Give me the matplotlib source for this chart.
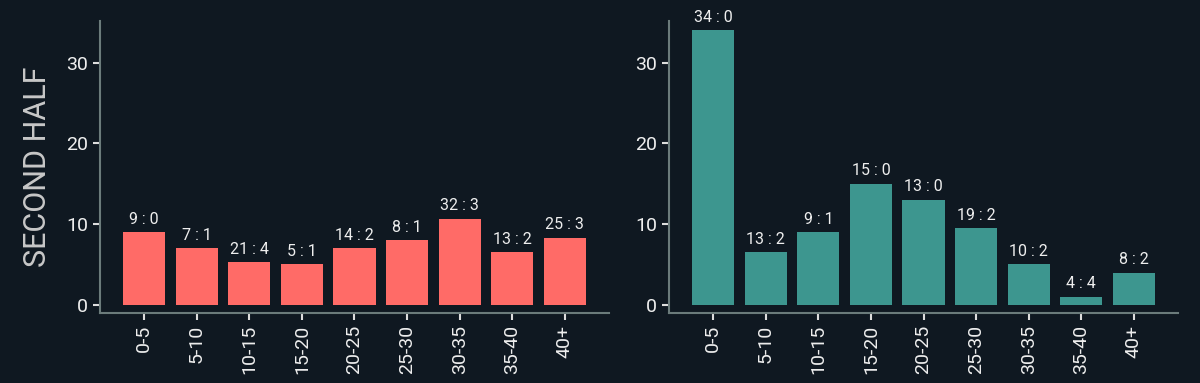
import matplotlib
matplotlib.use("Agg")
import matplotlib.pyplot as plt

plt.rcParams['font.family'] = ['Roboto', 'DejaVu Sans']

bins = ["0-5", "5-10", "10-15", "15-20", "20-25", "25-30", "30-35", "35-40", "40+"]
left_goals = [9, 7, 21, 5, 14, 8, 32, 13, 25]
left_conceded = [0, 1, 4, 1, 2, 1, 3, 2, 3]
right_goals = [34, 13, 9, 15, 13, 19, 10, 4, 8]
right_conceded = [0, 2, 1, 0, 0, 2, 2, 4, 2]

bg = "#0f1821"
spine_col = "#6b7b7b"
text_col = "#eeeeee"

fig = plt.figure(figsize=(12, 3.83), dpi=100, facecolor=bg)
ax1 = fig.add_axes([0.0833, 0.183, 0.4242, 0.763])
ax2 = fig.add_axes([0.5575, 0.183, 0.4242, 0.763])

for ax, goals, conc, col in [(ax1, left_goals, left_conceded, "#ff6b67"),
                             (ax2, right_goals, right_conceded, "#3d968f")]:
    ratio = [g / max(c, 1) for g, c in zip(goals, conc)]
    x = range(len(bins))
    bars = ax.bar(x, ratio, width=0.8, color=col)
    for b, g, c in zip(bars, goals, conc):
        ax.annotate(f"{g} : {c}", (b.get_x() + b.get_width() / 2, b.get_height()),
                    xytext=(0, 4), textcoords="offset points",
                    ha="center", va="bottom", color=text_col, fontsize=11.5)
    ax.set_facecolor(bg)
    ax.set_xticks(list(x))
    ax.set_xticklabels(bins, rotation=90)
    ax.set_xlim(-0.84, 8.84)
    ax.set_ylim(-1, 35.2)
    ax.set_yticks([0, 10, 20, 30])
    for s in ["top", "right"]:
        ax.spines[s].set_visible(False)
    for s in ["left", "bottom"]:
        ax.spines[s].set_color(spine_col)
        ax.spines[s].set_linewidth(1.5)
    ax.tick_params(colors=text_col, labelsize=14, length=5, width=1.5)
    ax.tick_params(axis="both", color="#dddddd")

ax1.set_ylabel("SECOND HALF", fontsize=22, color="#c8c8c8", labelpad=10)

fig.savefig("out.png", facecolor=bg)
